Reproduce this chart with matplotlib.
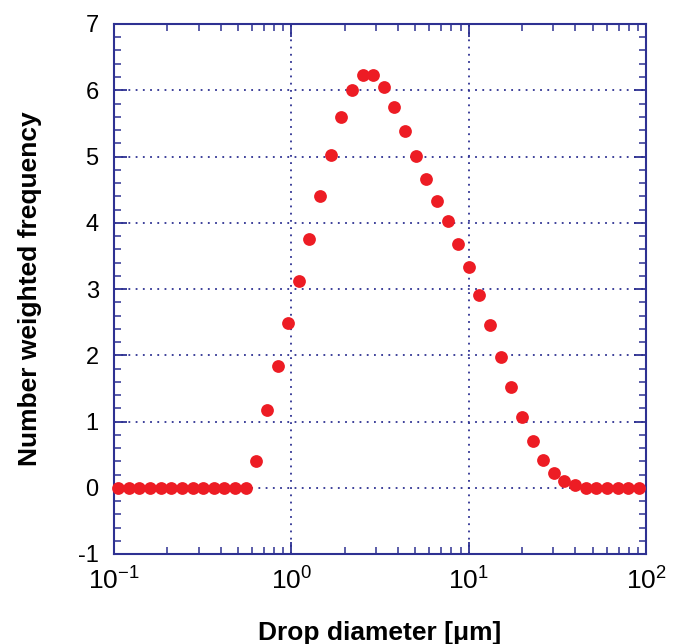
import matplotlib
matplotlib.use("Agg")
import matplotlib.pyplot as plt
from matplotlib.ticker import LogLocator, MultipleLocator, FixedLocator

plt.rcParams['font.family'] = ['Liberation Sans', 'DejaVu Sans']
plt.rcParams['mathtext.fontset'] = 'custom'
plt.rcParams['mathtext.rm'] = 'Liberation Sans'

diameter = [0.1057, 0.1213, 0.1392, 0.1598, 0.1835, 0.2106, 0.2417, 0.2775, 0.3185, 0.3657,
            0.4198, 0.4819, 0.5532, 0.6350, 0.7290, 0.8368, 0.9603, 1.1022, 1.2655, 1.4526,
            1.6672, 1.9137, 2.1968, 2.5219, 2.8945, 3.3228, 3.8142, 4.3786, 5.0258, 5.7690,
            6.6222, 7.6019, 8.7270, 10.016, 11.497, 13.198, 15.150, 17.391, 19.963, 22.914,
            26.303, 30.200, 34.664, 39.783, 45.667, 52.42, 60.17, 69.07, 79.27, 91.00]
frequency = [0, 0, 0, 0, 0, 0, 0, 0, 0, 0,
             0, 0, 0, 0.41, 1.18, 1.84, 2.49, 3.12, 3.75, 4.40,
             5.02, 5.60, 6.01, 6.23, 6.23, 6.05, 5.75, 5.39, 5.01, 4.66,
             4.33, 4.02, 3.68, 3.33, 2.91, 2.46, 1.97, 1.52, 1.07, 0.71,
             0.42, 0.23, 0.10, 0.04, 0, 0, 0, 0, 0, 0]
x_ticks = [0.1, 1, 10, 100]
x_ticklabels = [r'$\mathregular{10^{-1}}$', r'$\mathregular{10^{0}}$',
                r'$\mathregular{10^{1}}$', r'$\mathregular{10^{2}}$']
y_ticks = [-1, 0, 1, 2, 3, 4, 5, 6, 7]

navy = '#2e3192'
red = '#ed1c24'

fig = plt.figure(figsize=(6.8, 6.44), dpi=100)
ax = fig.add_axes([114/680, 1 - 554/644, (646 - 114)/680, (554 - 24)/644])

ax.plot(diameter, frequency, 'o', color=red, markersize=9.2, markeredgewidth=0, zorder=3, clip_on=False)

ax.set_xscale('log')
ax.set_xlim(0.1, 100)
ax.set_ylim(-1, 7)
ax.set_xticks(x_ticks)
ax.set_xticklabels(x_ticklabels)
ax.xaxis.set_minor_locator(LogLocator(base=10, subs=[2, 3, 4, 5, 6, 7, 8, 9]))
ax.yaxis.set_major_locator(FixedLocator(y_ticks))
ax.set_yticklabels([str(v) for v in y_ticks])
ax.yaxis.set_minor_locator(MultipleLocator(0.2))

ax.grid(True, which='major', color=navy, linestyle=(0, (1, 3)), linewidth=1.3)

for s in ax.spines.values():
    s.set_color(navy)
    s.set_linewidth(1.5)

ax.tick_params(which='both', direction='in', top=True, right=True, color=navy,
               labelcolor='black')
ax.tick_params(which='major', length=9, width=1.3, labelsize=17, pad=11)
ax.tick_params(which='minor', length=5, width=1.1)
ax.tick_params(axis='x', which='major', labelsize=19, pad=10)

ax.set_xlabel('Drop diameter [\u03bcm]', fontsize=19, fontweight='bold', labelpad=19)
ax.set_ylabel('Number weighted frequency', fontsize=19, fontweight='bold', labelpad=26)

fig.savefig('out.png', dpi=100)
